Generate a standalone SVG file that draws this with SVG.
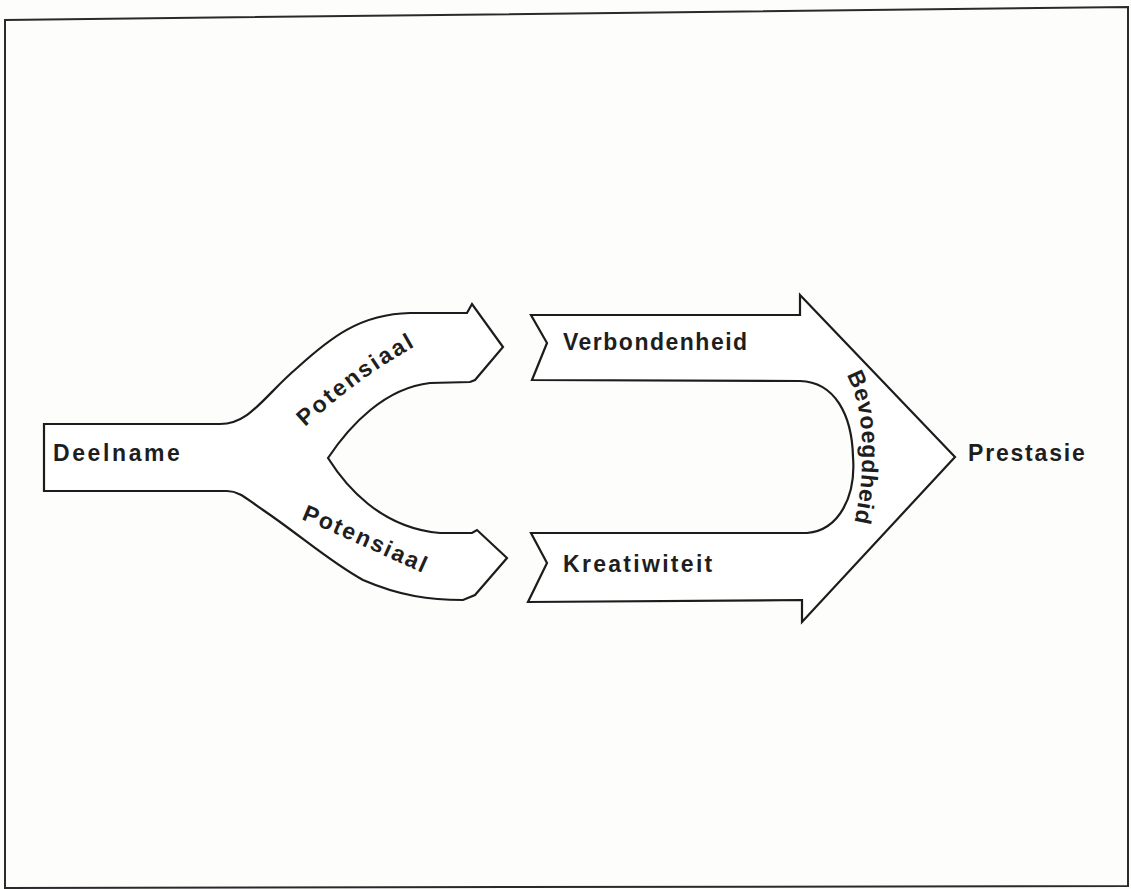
<svg xmlns="http://www.w3.org/2000/svg" width="1131" height="889" viewBox="0 0 1131 889">
  <style>
    .bg { fill: #fdfdfc; }
    .frame { fill: none; stroke: #2a2a2a; stroke-width: 2; }
    .band { fill: #ffffff; stroke: #1c1c1c; stroke-width: 2.2; stroke-linejoin: miter; }
    .lbl { font-family: "Liberation Sans", Arial, sans-serif; font-weight: bold; font-size: 23px; fill: #1e1e1e; }
  </style>
  <defs>
    <path id="p-up" d="M 305 427 C 335 400, 370 370, 432 337"/>
    <path id="p-down" d="M 301 519 C 340 535, 380 554, 434 578"/>
    <path id="p-arc" d="M 842 368 C 866 400, 868 470, 852 532"/>
  </defs>

  <rect class="bg" x="0" y="0" width="1131" height="889"/>
  <path class="frame" d="M 5 20 L 1128 7 L 1128 886 L 5 888 Z"/>

  <!-- forked arrow: Deelname splitting into two Potensiaal branches -->
  <g id="fork">
    <path class="band" d="M 44 424 L 220 424
      C 250 424, 265 395, 297 368
      C 330 338, 360 314, 410 313 L 467 313
      L 472 304 L 503 347 L 475 380 L 470 382 L 430 383
      C 385 388, 350 425, 328 458
      C 345 485, 380 528, 440 533 L 472 533
      L 477 530 L 507 558 L 475 595 L 463 600
      C 430 600, 400 596, 363 580
      C 330 562, 300 535, 263 510
      C 248 500, 240 491, 227 491 L 44 491 Z"/>
    <text class="lbl" x="53" y="461" font-size="22" letter-spacing="2.6">Deelname</text>
    <text class="lbl" font-size="22" letter-spacing="2.4"><textPath href="#p-up">Potensiaal</textPath></text>
    <text class="lbl" font-size="22" letter-spacing="2"><textPath href="#p-down">Potensiaal</textPath></text>
  </g>

  <!-- U-shaped arrow: Verbondenheid and Kreatiwiteit joining through Bevoegdheid -->
  <g id="u-arrow">
    <path class="band" d="M 531 315 L 800 315 L 800 295 L 955 457 L 802 622 L 802 600 L 528 602
      L 547 563 L 531 533 L 807 533
      C 840 530, 856 495, 853 457
      C 852 415, 835 382, 800 381 L 532 380
      L 547 343 Z"/>
    <text class="lbl" x="563" y="350" letter-spacing="1.5">Verbondenheid</text>
    <text class="lbl" x="563" y="572" letter-spacing="2.3">Kreatiwiteit</text>
    <text class="lbl" font-size="22" letter-spacing="0.6"><textPath href="#p-arc" startOffset="8">Bevoegdheid</textPath></text>
  </g>

  <g id="prestasie">
    <text class="lbl" x="968" y="461" font-size="21" letter-spacing="1.8">Prestasie</text>
  </g>
</svg>
